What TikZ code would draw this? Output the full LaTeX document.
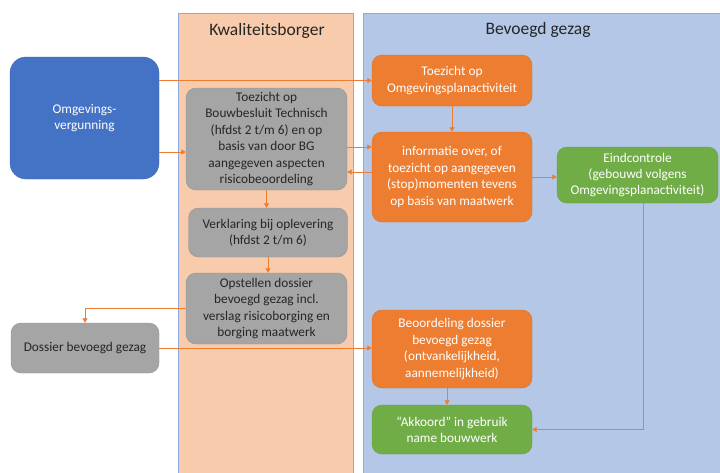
\documentclass[tikz,border=0pt]{standalone}
\usepackage{fontspec}
\setmainfont{Carlito}
\usetikzlibrary{arrows.meta,positioning}
\definecolor{laneorange}{HTML}{F8CBAD}
\definecolor{laneblue}{HTML}{B4C7E7}
\definecolor{laneedge}{HTML}{8EA9DB}
\definecolor{boxorange}{HTML}{ED7D31}
\definecolor{boxgreen}{HTML}{70AD47}
\definecolor{boxblue}{HTML}{4472C4}
\definecolor{boxgray}{HTML}{A5A5A5}
\definecolor{textdark}{HTML}{262626}
\tikzset{
  lane/.style={draw=laneedge, line width=0.9pt},
  lanetitle/.style={font=\fontsize{17.5}{20}\selectfont, text=textdark},
  box/.style={rounded corners=10pt, align=center, inner sep=0pt,
    font=\fontsize{13.3}{16.4}\selectfont},
  graybox/.style={box, fill=boxgray, draw=boxgray!90!black, text=textdark},
  orangebox/.style={box, fill=boxorange, draw=boxorange!92!black, text=white},
  greenbox/.style={box, fill=boxgreen, draw=boxgreen!92!black, text=white},
  bluebox/.style={box, rounded corners=16pt, fill=boxblue, draw=boxblue!92!black, text=white},
  arr/.style={draw=boxorange, line width=0.8pt,
    -{Triangle[width=5pt,length=4.5pt]}},
  flow/.style={draw=boxorange, line width=0.8pt}
}
\begin{document}
\begin{tikzpicture}[x=1pt,y=-1pt]
\useasboundingbox (0,0) rectangle (720,472);
\fill[white] (0,0) rectangle (720,472);

% swimlanes
\filldraw[lane, fill=laneorange] (178,13) rectangle (353,480);
\filldraw[lane, fill=laneblue] (363,13) rectangle (730,480);
\node[lanetitle] (kbtitle) at (267,31) {Kwaliteitsborger};
\node[lanetitle] (bgtitle) at (538,30) {Bevoegd gezag};

% process steps
\node[bluebox, minimum width=149pt, minimum height=122pt] (omg) at (84.5,118)
  {Omgevings-\\vergunning};
\node[graybox, minimum width=161pt, minimum height=102pt] (g1) at (266.5,139)
  {Toezicht op\\Bouwbesluit Technisch\\(hfdst 2 t/m 6) en op\\basis van door BG\\aangegeven aspecten\\risicobeoordeling};
\node[graybox, minimum width=159pt, minimum height=49pt] (g2) at (268,232.5)
  {Verklaring bij oplevering\\(hfdst 2 t/m 6)};
\node[graybox, minimum width=161pt, minimum height=71pt] (g3) at (266.5,308.5)
  {Opstellen dossier\\bevoegd gezag incl.\\verslag risicoborging en\\borging maatwerk};
\node[graybox, minimum width=148pt, minimum height=50pt] (dos) at (85,348)
  {Dossier bevoegd gezag};
\node[orangebox, minimum width=160pt, minimum height=51pt] (o1) at (452,80.5)
  {Toezicht op\\Omgevingsplanactiviteit};
\node[orangebox, minimum width=160pt, minimum height=90pt] (o2) at (452,177)
  {informatie over, of\\toezicht op aangegeven\\(stop)momenten tevens\\op basis van maatwerk};
\node[greenbox, minimum width=161pt, minimum height=56pt] (e1) at (637.5,175)
  {Eindcontrole\\(gebouwd volgens\\Omgevingsplanactiviteit)};
\node[orangebox, minimum width=160pt, minimum height=78pt] (o3) at (452,349)
  {Beoordeling dossier\\bevoegd gezag\\(ontvankelijkheid,\\aannemelijkheid)};
\node[greenbox, minimum width=160pt, minimum height=49pt] (ak) at (452,429.5)
  {“Akkoord” in gebruik\\name bouwwerk};

% connection points on box sides
\coordinate (g1in) at ([yshift=-13pt]g1.west);
\coordinate (g1out) at ([yshift=-8pt]g1.east);
\coordinate (g1back) at ([yshift=-33pt]g1.east);
\coordinate (e1down) at ([xshift=5.5pt]e1.south);
\coordinate (o3down) at ([xshift=-5pt]o3.south);

% connectors
\draw[arr] (omg.east |- o1.west) -- (o1.west);
\draw[arr] (omg.east |- g1in) -- (g1in);
\draw[arr] (g1out) -- (g1out -| o2.west);
\draw[arr] (g1back -| o2.west) -- (g1back);
\draw[arr] (g1.south) -- (g2.north -| g1.south);
\draw[arr] (g2.south) -- (g3.north -| g2.south);
\draw[arr] (g3.west) -| (dos.north);
\draw[arr] (dos.east) -- (dos.east -| o3.west);
\draw[arr] (o1.south) -- (o2.north);
\draw[arr] (o2.east) -- (o2.east -| e1.west);
\draw[arr] (e1down) |- (ak.east);
\draw[arr] (o3down) -- (o3down |- ak.north);
\end{tikzpicture}
\end{document}
